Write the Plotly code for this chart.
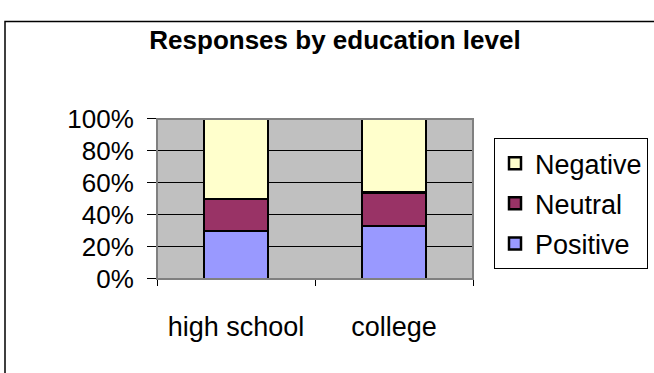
import plotly.graph_objects as go

# Share of responses (%) per education level
categories = ["high school", "college"]
positive = [30, 33]
neutral = [20, 21]
negative = [50, 46]
tick_vals = [0, 20, 40, 60, 80, 100]
tick_text = ["0%", "20%", "40%", "60%", "80%", "100%"]

W, H = 654, 373
FONT = "Liberation Sans, Arial, sans-serif"

# plot area in pixels (left, right, top, bottom)
px_l, px_r, px_t, px_b = 157, 473, 113, 287

fig = go.Figure()
series = [
    ("Positive", positive, "#9999FF", 3),
    ("Neutral", neutral, "#993366", 2),
    ("Negative", negative, "#FFFFCC", 1),
]
for name, vals, color, rank in series:
    fig.add_trace(go.Bar(
        name=name, x=categories, y=vals, width=0.405,
        marker=dict(color=color, line=dict(color="black", width=2.5)),
        legendgroup=name, legendrank=rank,
    ))

fig.update_layout(
    width=W, height=H,
    margin=dict(l=0, r=0, t=0, b=0),
    paper_bgcolor="white",
    plot_bgcolor="#C0C0C0",
    barmode="stack",
    font=dict(family=FONT, size=26, color="black"),
    title=dict(
        text="<b>Responses by education level</b>",
        x=335 / W, xanchor="center",
        y=1 - 40 / H, yanchor="middle",
        font=dict(family=FONT, size=26, color="black"),
    ),
    xaxis=dict(
        domain=[px_l / W, px_r / W],
        showgrid=False, zeroline=False,
        showline=True, linecolor="black", linewidth=1,
        ticks="outside", ticklen=6, tickcolor="black",
        tickson="boundaries",
        ticklabelstandoff=24,
        tickfont=dict(size=27),
    ),
    yaxis=dict(
        domain=[1 - px_b / H, 1 - px_t / H],
        range=[0, 100],
        tickvals=tick_vals, ticktext=tick_text,
        showgrid=True, gridcolor="black", gridwidth=1,
        zeroline=False,
        showline=True, linecolor="#404040", linewidth=1,
        ticks="outside", ticklen=9, tickcolor="black",
        ticklabelstandoff=8,
        tickfont=dict(size=26),
    ),
    legend=dict(
        x=494 / W, xanchor="left",
        y=1 - 134 / H, yanchor="top",
        traceorder="grouped",
        tracegroupgap=2,
        bgcolor="white", bordercolor="black", borderwidth=1,
        font=dict(family=FONT, size=27),
        itemwidth=30,
    ),
    showlegend=True,
)

# plot-area frame and outer chart border
fig.add_shape(type="rect", xref="paper", yref="paper",
              x0=px_l / W, x1=px_r / W, y0=1 - px_b / H, y1=1 - px_t / H,
              line=dict(color="#808080", width=2), layer="above")
fig.add_shape(type="rect", xref="paper", yref="paper",
              x0=5 / W, x1=1.1, y0=-0.1, y1=1 - 7 / H,
              line=dict(color="black", width=1.5))

fig.write_html("out.html")
